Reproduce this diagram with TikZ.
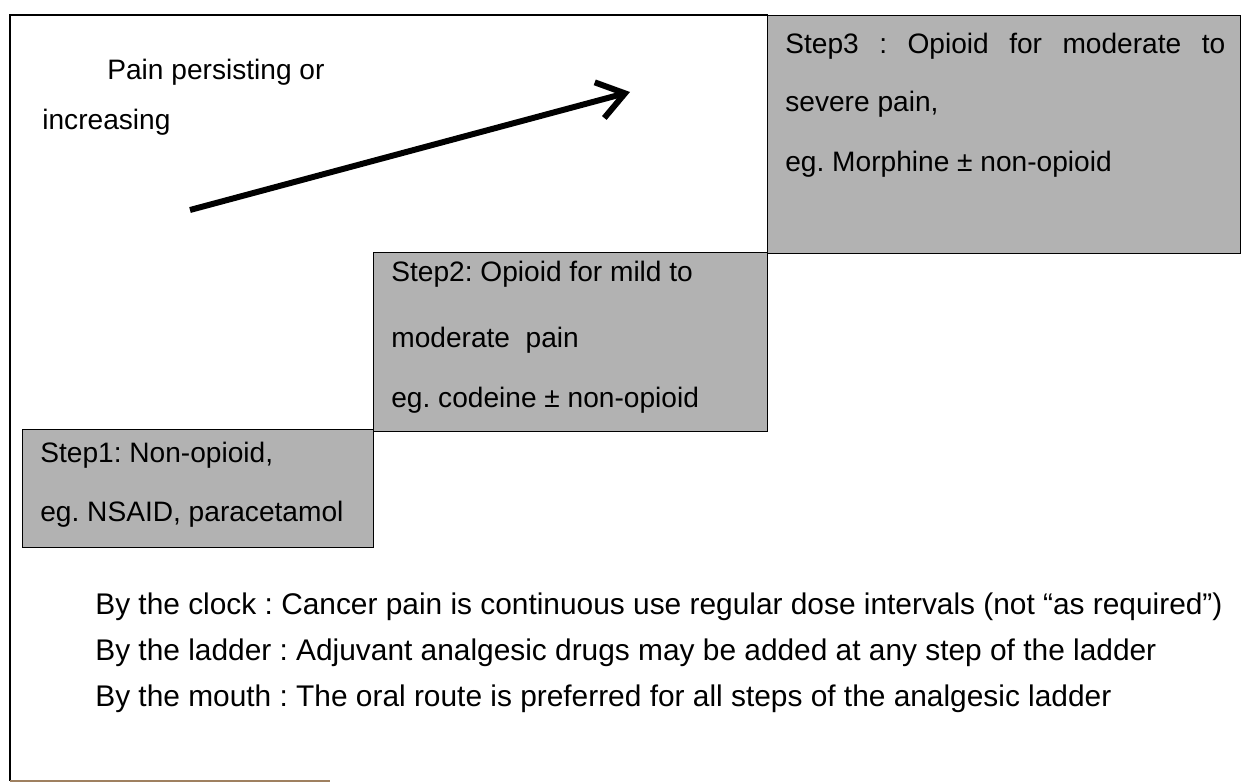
\documentclass[tikz,border=0pt]{standalone}
\usepackage{fontspec}
\setmainfont{Liberation Sans}
\usetikzlibrary{arrows.meta}
\frenchspacing
\tikzset{
  stepbox/.style={draw=black, fill=gray!60, line width=0.8pt, inner sep=0pt, anchor=north west},
  boxtext/.style={anchor=base west, inner sep=0pt, font=\fontsize{16}{20}\selectfont},
  ruletext/.style={anchor=base west, inner sep=0pt, font=\fontsize{17}{21}\selectfont},
}
\begin{document}
\begin{tikzpicture}[x=0.02cm, y=-0.02cm]
  \useasboundingbox (0,0) rectangle (1242,783);

  % outer frame
  \draw[line width=0.8pt] (768,15) -- (10,15) -- (10,781);
  \draw[line width=1pt, brown!50!gray] (10,781) -- (330,781);

  % the three steps of the ladder
  \node[stepbox, minimum width=7.02cm, minimum height=2.36cm] (step1) at (22,429) {};
  \node[stepbox, minimum width=7.88cm, minimum height=3.58cm] (step2) at (373,252) {};
  \node[stepbox, minimum width=9.46cm, minimum height=4.76cm] (step3) at (767,15) {};

  % step texts
  \node[boxtext] (s1a) at (40,463) {Step1: Non-opioid,};
  \node[boxtext] (s1b) at (40,522) {eg. NSAID, paracetamol};
  \node[boxtext] (s2a) at (391,282) {Step2: Opioid for mild to};
  \node[boxtext] (s2b) at (391,348) {moderate\ \ pain};
  \node[boxtext] (s2c) at (391,408) {eg. codeine ± non-opioid};
  \node[boxtext] (s3a) at (785,54) {\makebox[8.8cm][s]{Step3 : Opioid for moderate to}};
  \node[boxtext] (s3b) at (785,112) {severe pain,};
  \node[boxtext] (s3c) at (785,172) {eg. Morphine ± non-opioid};

  % pain arrow
  \node[boxtext] (pain1) at (107,80) {Pain persisting or};
  \node[boxtext] (pain2) at (42,130) {increasing};
  \coordinate (tail) at (190,210);
  \coordinate (tip) at (630,92);
  \draw[line width=3.4pt, -{Straight Barb[length=15pt,width=21pt]}] (tail) -- (tip);

  % principles
  \node[ruletext] (clock) at (95,615) {By the clock : Cancer pain is continuous use regular dose intervals (not “as required”)};
  \node[ruletext] (ladder) at (95,661) {By the ladder : Adjuvant analgesic drugs may be added at any step of the ladder};
  \node[ruletext] (mouth) at (95,707) {By the mouth : The oral route is preferred for all steps of the analgesic ladder};
\end{tikzpicture}
\end{document}
